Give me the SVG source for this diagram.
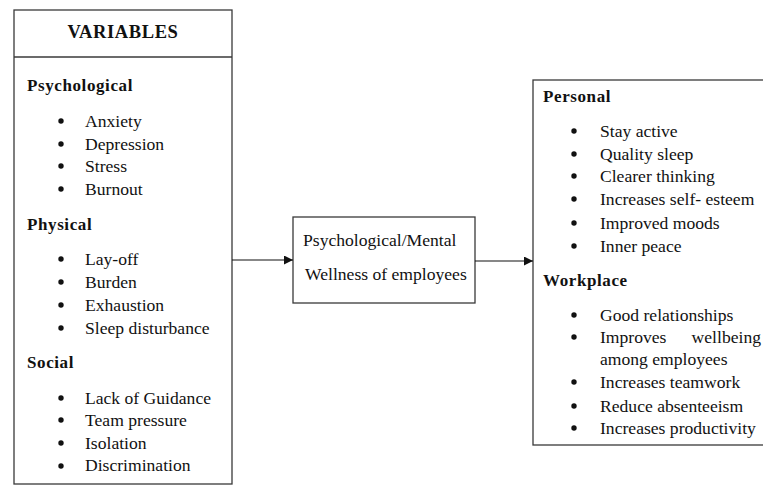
<svg xmlns="http://www.w3.org/2000/svg" width="763" height="486" viewBox="0 0 763 486">
<style>
.box{fill:#fff;stroke:#3a3a3a;stroke-width:1.3}
.t{font-family:"Liberation Serif","Times New Roman",serif;font-size:17.6px;fill:#111}
.b{font-weight:bold;font-size:17px;letter-spacing:0.6px}
.line{stroke:#111;stroke-width:1.2;fill:none}
.dot{fill:#111}
</style>
<defs>
<marker id="arr" viewBox="0 0 10 10" refX="10" refY="5" markerWidth="9" markerHeight="9" markerUnits="userSpaceOnUse" orient="auto">
<path d="M0,0 L10,5 L0,10 z" fill="#111"/>
</marker>
</defs>
<rect width="763" height="486" fill="#fff"/>
<g id="variables">
<rect class="box" x="14" y="10" width="218" height="474"/>
<line class="box" x1="14" y1="57" x2="232" y2="57"/>
<text class="t b" x="123" y="38" text-anchor="middle" style="font-size:18.5px">VARIABLES</text>
<text class="t b" x="27" y="91">Psychological</text>
<circle class="dot" cx="61" cy="121" r="2.7"/><text class="t" x="85" y="127">Anxiety</text>
<circle class="dot" cx="61" cy="144" r="2.7"/><text class="t" x="85" y="149.5">Depression</text>
<circle class="dot" cx="61" cy="166" r="2.7"/><text class="t" x="85" y="172">Stress</text>
<circle class="dot" cx="61" cy="189" r="2.7"/><text class="t" x="85" y="194.5">Burnout</text>
<text class="t b" x="27" y="230">Physical</text>
<circle class="dot" cx="61" cy="259" r="2.7"/><text class="t" x="85" y="265">Lay-off</text>
<circle class="dot" cx="61" cy="282" r="2.7"/><text class="t" x="85" y="287.5">Burden</text>
<circle class="dot" cx="61" cy="305" r="2.7"/><text class="t" x="85" y="310.5">Exhaustion</text>
<circle class="dot" cx="61" cy="328" r="2.7"/><text class="t" x="85" y="333.5">Sleep disturbance</text>
<text class="t b" x="27" y="368">Social</text>
<circle class="dot" cx="61" cy="398" r="2.7"/><text class="t" x="85" y="403.5">Lack of Guidance</text>
<circle class="dot" cx="61" cy="420" r="2.7"/><text class="t" x="85" y="426">Team pressure</text>
<circle class="dot" cx="61" cy="443" r="2.7"/><text class="t" x="85" y="448.5">Isolation</text>
<circle class="dot" cx="61" cy="466" r="2.7"/><text class="t" x="85" y="471">Discrimination</text>
</g>
<g id="wellness">
<rect class="box" x="293" y="217" width="182" height="86"/>
<text class="t" x="303" y="246">Psychological/Mental</text>
<text class="t" x="305" y="280">Wellness of employees</text>
</g>
<g id="outcomes">
<rect class="box" x="533" y="80" width="240" height="365"/>
<text class="t b" x="543" y="102">Personal</text>
<circle class="dot" cx="574" cy="131" r="2.7"/><text class="t" x="600" y="137">Stay active</text>
<circle class="dot" cx="574" cy="154" r="2.7"/><text class="t" x="600" y="159.5">Quality sleep</text>
<circle class="dot" cx="574" cy="176" r="2.7"/><text class="t" x="600" y="182">Clearer thinking</text>
<circle class="dot" cx="574" cy="199" r="2.7"/><text class="t" x="600" y="205">Increases self- esteem</text>
<circle class="dot" cx="574" cy="223" r="2.7"/><text class="t" x="600" y="229">Improved moods</text>
<circle class="dot" cx="574" cy="246" r="2.7"/><text class="t" x="600" y="251.5">Inner peace</text>
<text class="t b" x="543" y="286">Workplace</text>
<circle class="dot" cx="574" cy="315" r="2.7"/><text class="t" x="600" y="321">Good relationships</text>
<circle class="dot" cx="574" cy="337" r="2.7"/><text class="t" x="600" y="342.5">Improves</text><text class="t" x="761" y="342.5" text-anchor="end">wellbeing</text>
<text class="t" x="600" y="364.5">among employees</text>
<circle class="dot" cx="574" cy="382" r="2.7"/><text class="t" x="600" y="388">Increases teamwork</text>
<circle class="dot" cx="574" cy="406" r="2.7"/><text class="t" x="600" y="411.5">Reduce absenteeism</text>
<circle class="dot" cx="574" cy="428" r="2.7"/><text class="t" x="600" y="433.5">Increases productivity</text>
</g>
<g id="connectors">
<line class="line" x1="232" y1="260" x2="293" y2="260" marker-end="url(#arr)"/>
<line class="line" x1="475" y1="261" x2="533" y2="261" marker-end="url(#arr)"/>
</g>
</svg>
